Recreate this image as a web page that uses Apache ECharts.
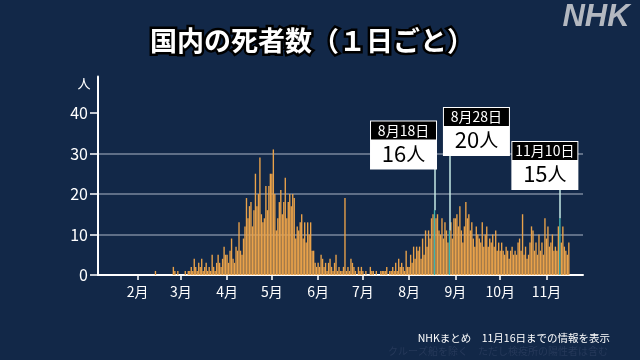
<!DOCTYPE html>
<html><head><meta charset="utf-8">
<script src="https://cdn.jsdelivr.net/npm/echarts@6/dist/echarts.min.js"></script>
<style>html,body{margin:0;padding:0;background:#122848;}#c{width:640px;height:360px;}</style>
</head><body><div id="c"></div>
<script>
// daily deaths (index 0 = 1st of month)
const feb = [0,0,0,0,0,0,0,0,0,0,0,0,1,0,0,0,0,0,0,0,0,0,0,0,2,1,0,1,0];
const mar = [0,0,0,1,0,1,1,2,1,4, 2,1,3,2,4,1,2,3,1,2, 1,5,2,1,3,5,3,2,4,7, 5];
const apr = [5,3,6,9,4,3,7,6,13,6, 5,9,12,19,14,17,18,12,16,25, 17,20,29,15,13,14,22,16,22,25];
const may = [25,31,20,11,14,18,21,15,18,24, 14,18,20,17,20,19,9,12,11,13, 15,9,13,8,13,10,13,6,6,3, 2];
const jun = [3,2,5,4,2,3,1,3,4,2, 1,3,5,1,2,1,1,2,19,1, 2,1,4,3,2,1,0,2,1,2];
const jul = [1,0,1,0,0,2,1,1,0,1, 0,0,1,1,1,1,2,0,1,1, 2,1,3,1,4,2,3,2,1,6, 2];
const aug = [2,5,3,7,4,7,6,7,4,9, 5,11,7,11,9,14,15,16,14,15, 11,10,14,9,13,11,8,11,13,9, 14];
const sep = [14,15,12,17,11,8,12,18,14,15, 11,13,9,7,12,10,9,8,13,7, 10,12,7,9,8,10,7,11,6,8];
const oct = [6,8,6,5,7,6,4,6,7,5, 6,5,8,9,6,15,5,7,4,5, 8,12,11,6,8,5,10,6,8,5, 14];
const nov = [9,12,7,8,10,6,7,6,12,14, 8,12,7,6,5,8];

const axisStart = [2020, 0, 6];   // first category (Jan 6)
const axisEnd = [2020, 10, 25];   // last category (Nov 25)
const dataStart = '2/1';
const yTicks = [0, 10, 20, 30, 40];

const hlDates = ['8/18', '8/28', '11/10'];
const hlTitles = ['8月18日', '8月28日', '11月10日'];
const hlCounts = ['16', '20', '15'];

// categories
const cats = [];
for (let d = new Date(axisStart[0], axisStart[1], axisStart[2]); d <= new Date(axisEnd[0], axisEnd[1], axisEnd[2]); d.setDate(d.getDate() + 1)) {
  cats.push((d.getMonth() + 1) + '/' + d.getDate());
}
const values = [].concat(feb, mar, apr, may, jun, jul, aug, sep, oct, nov);
const off = cats.indexOf(dataStart);
const TEAL = '#3db5ae';
const barData = cats.map((c, i) => {
  const k = i - off;
  if (k < 0 || k >= values.length) return null;
  if (hlDates.includes(c)) return { value: values[k], itemStyle: { color: TEAL } };
  return values[k];
});
const valOf = c => values[cats.indexOf(c) - off];

// annotation box layout (box centre in data units + pixel offset, box bottom)
const boxCenter = [32.1, 35.4, 27.0];
const boxBottom = [26.6, 29.8, 21.6];
const boxDx = [-31, 27, -15];

const isMonthStart = (i, v) => v.split('/')[1] === '1';
const FONT = '"Noto Sans CJK JP", "Noto Sans", sans-serif';

const chart = echarts.init(document.getElementById('c'), null, { renderer: 'canvas' });
chart.setOption({
  backgroundColor: '#122848',
  animation: false,
  textStyle: { fontFamily: FONT },
  grid: { left: 98, right: 57, top: 76.5, bottom: 85, containLabel: false },
  xAxis: {
    type: 'category', data: cats, boundaryGap: true,
    axisLine: { show: true, lineStyle: { color: '#ffffff', width: 2 } },
    axisTick: { show: true, alignWithLabel: true, interval: isMonthStart, length: 5, lineStyle: { color: '#ffffff', width: 1.5 } },
    axisLabel: { interval: isMonthStart, formatter: v => v.split('/')[0] + '月', color: '#ffffff', fontSize: 14, margin: 10, fontFamily: FONT },
    splitLine: { show: false }
  },
  yAxis: {
    type: 'value', min: 0, max: 49, interval: 10,
    axisLine: { show: true, lineStyle: { color: '#ffffff', width: 2 } },
    axisTick: { show: true, length: 8, customValues: yTicks, lineStyle: { color: '#ffffff', width: 1.5 } },
    axisLabel: { customValues: yTicks, color: '#ffffff', fontSize: 16, margin: 10, fontFamily: FONT,
      formatter: v => (v % 10 === 0 ? String(v) : '') },
    splitLine: { show: true, showMaxLine: false, showMinLine: false, lineStyle: { color: '#7a879c', width: 1.5 } }
  },
  series: [{
    type: 'bar', data: barData, barCategoryGap: '8%',
    itemStyle: { color: '#e9a24a' },
    markLine: {
      silent: true, symbol: ['none', 'none'], label: { show: false },
      lineStyle: { color: '#c4e8e5', width: 1.5, type: 'solid' },
      data: hlDates.map((d, i) => [{ coord: [d, valOf(d)] }, { coord: [d, boxBottom[i]] }])
    },
    markPoint: {
      silent: true,
      data: hlDates.map((d, i) => ({
        coord: [d, boxCenter[i]], symbol: 'rect', symbolSize: 1,
        itemStyle: { color: 'rgba(0,0,0,0)' },
        label: {
          show: true, position: 'inside', offset: [boxDx[i], 0],
          backgroundColor: '#ffffff', padding: [1, 1, 2, 1], width: 65,
          formatter: '{h|' + hlTitles[i] + '}\n{v|' + hlCounts[i] + '}{u|人}',
          rich: {
            h: { width: 65, height: 18, lineHeight: 18, backgroundColor: '#000000', color: '#ffffff', fontSize: 14, align: 'center', fontFamily: FONT },
            v: { fontSize: 22, lineHeight: 28, color: '#000000', align: 'center', fontFamily: FONT },
            u: { fontSize: 19, lineHeight: 28, color: '#000000', align: 'center', fontFamily: FONT }
          }
        }
      }))
    }
  }],
  graphic: [
    { type: 'text', x: 312, y: 41, style: { text: '国内の死者数（１日ごと）', font: 'bold 27px ' + FONT, fill: '#000', stroke: '#000', lineWidth: 5, align: 'center', verticalAlign: 'middle' } },
    { type: 'text', x: 312, y: 41, style: { text: '国内の死者数（１日ごと）', font: 'bold 27px ' + FONT, fill: '#ffffff', align: 'center', verticalAlign: 'middle' } },
    { type: 'text', x: 596, y: 17, style: { text: 'NHK', font: 'italic bold 31px "Liberation Sans", sans-serif', fill: '#b3b8c0', align: 'center', verticalAlign: 'middle' } },
    { type: 'text', x: 84, y: 83, style: { text: '人', font: '13px ' + FONT, fill: '#ffffff', align: 'center', verticalAlign: 'middle' } },
    { type: 'text', x: 610, y: 338, style: { text: 'NHKまとめ　11月16日までの情報を表示', font: '10.5px ' + FONT, fill: '#ffffff', align: 'right', verticalAlign: 'middle' } },
    { type: 'text', x: 608, y: 351, style: { text: 'クルーズ船を除く　ただし検疫所の陽性者は含む', font: '10px ' + FONT, fill: '#26395a', align: 'right', verticalAlign: 'middle' } }
  ]
});
</script>
</body></html>
